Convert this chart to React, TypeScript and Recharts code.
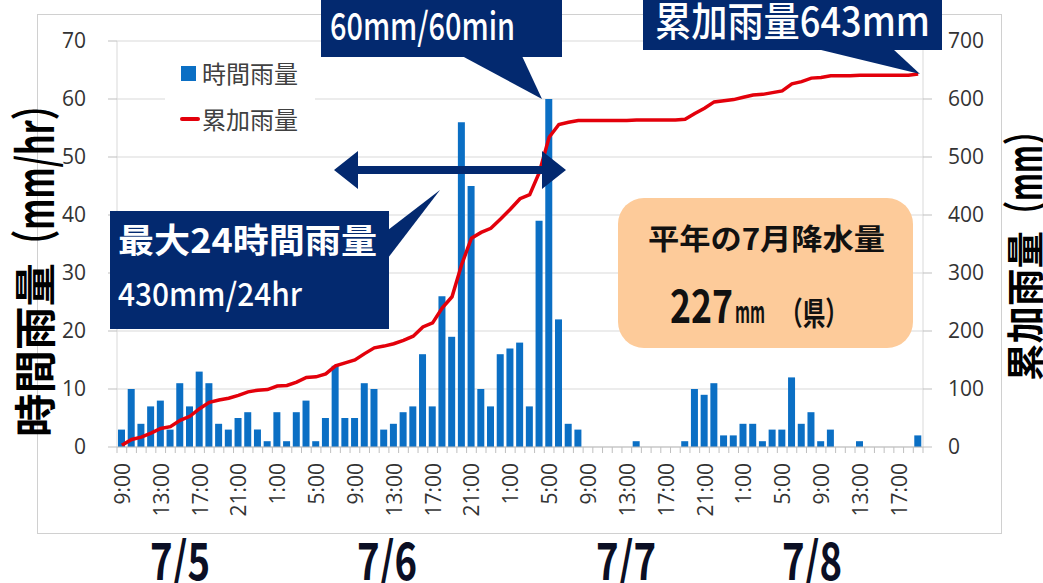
import React from 'react';
import { ComposedChart, Bar, Line, XAxis, YAxis, CartesianGrid, Legend } from 'recharts';

// 7/5 9:00 から 1時間ごと
const startHour = 9;
const hourlyRain = [
  3, 10, 4, 7, 8, 3, 11, 7, 13, 11, 4, 3, 5, 6, 3, 1, 6, 1, 6, 8, 1, 5,
  14, 5, 5, 11, 10, 3, 4, 6, 7, 16, 7, 26, 19, 56, 45, 10, 7, 16, 17, 18, 7, 39, 60, 22, 4, 3,
  0, 0, 0, 0, 0, 1, 0, 0, 0, 0, 1,
  10, 9, 11, 2, 2, 4, 4, 1, 3, 3, 12, 4, 6, 1, 3,
  0, 0, 1, 0, 0, 0, 0, 0, 2,
];
const totalRain = [
  3, 13, 17, 24, 32, 35, 46, 53, 66, 77, 81, 84, 89, 95, 98, 99, 105, 106, 112, 120, 121, 126,
  140, 145, 150, 161, 171, 174, 178, 184, 191, 207, 214, 240, 259, 315, 360, 370, 377, 393, 410, 428, 435, 474, 534, 556, 560, 563,
  563, 563, 563, 563, 563, 564, 564, 564, 564, 564, 565,
  575, 584, 595, 597, 599, 603, 607, 608, 611, 614, 626, 630, 636, 637, 640,
  640, 640, 641, 641, 641, 641, 641, 641, 643,
];
const leftTicks = [0, 10, 20, 30, 40, 50, 60, 70];
const rightTicks = [0, 100, 200, 300, 400, 500, 600, 700];
const dayLabels = ['7/5', '7/6', '7/7', '7/8'];
const dayLabelX = [180, 387, 626, 812];
const labelEvery = 4;

const data = hourlyRain.map((v, i) => ({
  hour: `${(startHour + i) % 24}:00`,
  rain: v,
  total: totalRain[i],
}));

const BLUE = '#0b6fc4';
const RED = '#e3000b';
const NAVY = '#03296f';
const PLOT_LEFT = 117;
const PLOT_RIGHT = 923;
const band = (PLOT_RIGHT - PLOT_LEFT) / data.length;
const JP = '"Noto Sans CJK JP", sans-serif';
const NUM = '"Open Sans", sans-serif';

const HourTick = (props: any) => {
  const { x, y, payload } = props;
  const i = payload.index;
  const base = y - 16;
  return (
    <g>
      <line x1={x - band / 2} x2={x - band / 2} y1={base} y2={base + 6} stroke="#bfbfbf" />
      {i === data.length - 1 && (
        <line x1={x + band / 2} x2={x + band / 2} y1={base} y2={base + 6} stroke="#bfbfbf" />
      )}
      {i % labelEvery === 0 && (
        <text
          transform={`translate(${x},${y}) rotate(-90)`}
          textAnchor="end"
          dominantBaseline="central"
          fontFamily={NUM}
          fontSize={21}
          fill="#333"
        >
          {payload.value}
        </text>
      )}
    </g>
  );
};

const renderLegend = (props: any) => {
  const { payload } = props;
  return (
    <div style={{ background: '#fff', width: 150, height: 92, paddingLeft: 15, boxSizing: 'border-box' }}>
      {(payload || []).map((entry: any) => (
        <div key={entry.value} style={{ display: 'flex', alignItems: 'center', height: 46 }}>
          <span style={{ width: 22, display: 'inline-flex', alignItems: 'center' }}>
            {entry.type === 'line' ? (
              <span style={{ width: 20, height: 4, background: RED, borderRadius: 2 }} />
            ) : (
              <span style={{ width: 15, height: 15, background: BLUE, marginLeft: 1 }} />
            )}
          </span>
          <span style={{ fontFamily: JP, fontSize: 24, color: '#404040', lineHeight: 1 }}>{entry.value}</span>
        </div>
      ))}
    </div>
  );
};

export default function App() {
  return (
    <div style={{ position: 'absolute', left: 0, top: 0, width: 1043, height: 583, background: '#fff', overflow: 'hidden' }}>
      <svg width={1043} height={583} style={{ position: 'absolute', left: 0, top: 0 }}>
        <rect x={37.5} y={14.5} width={964} height={519} fill="none" stroke="#d0d0d0" />
      </svg>
      <div style={{ position: 'absolute', left: 0, top: 0 }}>
        <ComposedChart width={1043} height={583} data={data} margin={{ top: 41, right: 0, bottom: 0, left: 0 }}>
          <CartesianGrid yAxisId="left" vertical={false} stroke="#d9d9d9" />
          <XAxis
            dataKey="hour"
            interval={0}
            height={136}
            tickSize={6}
            tickMargin={10}
            tickLine={false}
            tick={<HourTick />}
            axisLine={{ stroke: '#bfbfbf' }}
          />
          <YAxis
            yAxisId="left"
            width={117}
            domain={[0, 70]}
            ticks={leftTicks}
            tickSize={9}
            tickMargin={22}
            tickLine={{ stroke: '#bfbfbf' }}
            axisLine={{ stroke: '#d9d9d9' }}
            tick={{ fontFamily: NUM, fontSize: 21, fill: '#333' }}
          />
          <YAxis
            yAxisId="right"
            orientation="right"
            width={120}
            domain={[0, 700]}
            ticks={rightTicks}
            tickSize={9}
            tickMargin={16}
            tickLine={{ stroke: '#bfbfbf' }}
            axisLine={{ stroke: '#d9d9d9' }}
            tick={{ fontFamily: NUM, fontSize: 21, fill: '#333', textAnchor: 'start' }}
          />
          <Legend
            layout="horizontal"
            verticalAlign="middle"
            align="center"
            content={renderLegend}
            wrapperStyle={{ left: 165, top: 50, width: 150, height: 92 }}
          />
          <Bar yAxisId="left" dataKey="rain" name="時間雨量" legendType="square" fill={BLUE} barSize={7} isAnimationActive={false} />
          <Line
            yAxisId="right"
            dataKey="total"
            name="累加雨量"
            legendType="line"
            type="linear"
            stroke={RED}
            strokeWidth={3.5}
            dot={false}
            isAnimationActive={false}
          />
        </ComposedChart>
      </div>
      <svg width={1043} height={583} style={{ position: 'absolute', left: 0, top: 0, pointerEvents: 'none' }}>
        {/* axis titles */}
        <g fontFamily={JP} fontWeight={700} fill="#000">
          <text transform="translate(32,437) rotate(-90)" dominantBaseline="central" fontSize={42} textLength={174} lengthAdjust="spacingAndGlyphs">時間雨量</text>
          <text transform="translate(32,262) rotate(-90)" dominantBaseline="central" fontSize={50} textLength={174} lengthAdjust="spacingAndGlyphs">（mm/hr）</text>
          <text transform="translate(1022,381) rotate(-90)" dominantBaseline="central" fontSize={38} textLength={150} lengthAdjust="spacingAndGlyphs">累加雨量</text>
          <text transform="translate(1022,230) rotate(-90)" dominantBaseline="central" fontSize={46} textLength={114} lengthAdjust="spacingAndGlyphs">（mm）</text>
        </g>

        {/* 24h arrow */}
        <polygon
          points="334,170 358,151 358,166 542,166 542,151 566,170 542,189 542,174 358,174 358,189"
          fill={NAVY}
        />

        {/* 最大24時間雨量 */}
        <rect x={110} y={211} width={279} height={118} fill={NAVY} />
        <polygon points="388,230 388,258 440,190" fill={NAVY} />
        <text x={118} y={253} fontFamily={JP} fontWeight={700} fontSize={34} fill="#fff" textLength={259} lengthAdjust="spacingAndGlyphs">最大24時間雨量</text>
        <text x={118} y={306} fontFamily={JP} fontWeight={500} fontSize={32} fill="#fff" textLength={184} lengthAdjust="spacingAndGlyphs">430mm/24hr</text>

        {/* 60mm/60min */}
        <rect x={321} y={-5} width={241} height={62} fill={NAVY} />
        <polygon points="462,56 522,56 542,99" fill={NAVY} />
        <text x={330} y={40} fontFamily={JP} fontWeight={500} fontSize={38} fill="#fff" textLength={185} lengthAdjust="spacingAndGlyphs">60mm/60min</text>

        {/* 累加雨量643mm */}
        <rect x={643} y={-5} width={299} height={55} fill={NAVY} />
        <polygon points="817,49 893,49 920,74" fill={NAVY} />
        <text x={655} y={36} fontFamily={JP} fontWeight={500} fontSize={40} fill="#fff" textLength={275} lengthAdjust="spacingAndGlyphs">累加雨量643mm</text>

        {/* 平年の7月降水量 */}
        <rect x={618} y={198} width={295} height={150} rx={26} fill="#fdcb9a" />
        <text x={648} y={250} fontFamily={JP} fontWeight={700} fontSize={29} fill="#111" textLength={237} lengthAdjust="spacingAndGlyphs">平年の7月降水量</text>
        <text x={670} y={323} fontFamily={JP} fontWeight={700} fontSize={46} fill="#111" textLength={63} lengthAdjust="spacingAndGlyphs">227</text>
        <text x={735} y={323} fontFamily={JP} fontWeight={700} fontSize={30} fill="#111" textLength={30} lengthAdjust="spacingAndGlyphs">mm</text>
        <text x={780} y={325} fontFamily={JP} fontWeight={700} fontSize={32} fill="#111" textLength={68} lengthAdjust="spacingAndGlyphs">（県）</text>

        {/* dates */}
        {dayLabels.map((d, i) => (
          <text key={d} x={dayLabelX[i]} y={580} textAnchor="middle" fontFamily={JP} fontWeight={700} fontSize={52} fill="#0b0f24" textLength={60} lengthAdjust="spacingAndGlyphs">
            {d}
          </text>
        ))}
      </svg>
    </div>
  );
}
